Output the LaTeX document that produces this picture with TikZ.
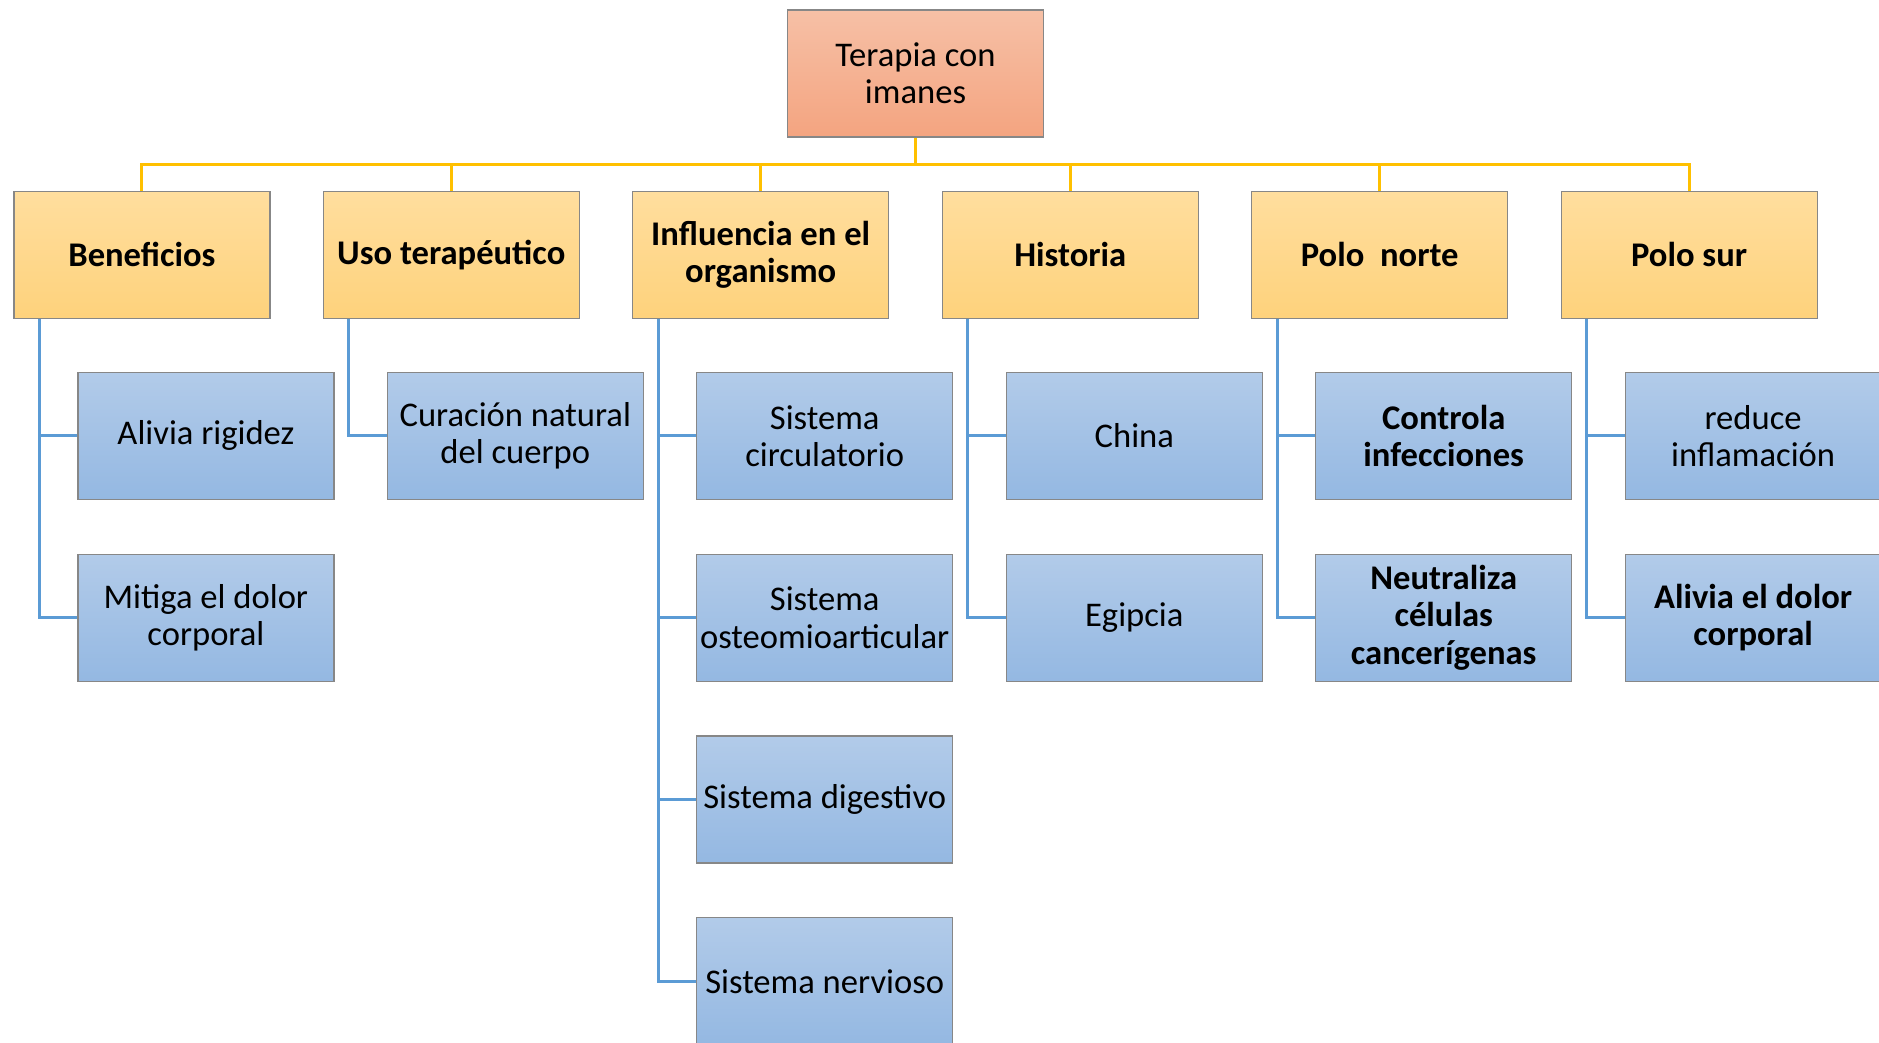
\documentclass[tikz,border=0pt]{standalone}
\usepackage{fontspec}
\setmainfont{Carlito}
\usetikzlibrary{positioning}

\definecolor{boxgray}{RGB}{135,135,135}
\definecolor{roottop}{RGB}{246,192,166}
\definecolor{rootbot}{RGB}{244,164,128}
\definecolor{cattop}{RGB}{255,222,158}
\definecolor{catbot}{RGB}{254,210,124}
\definecolor{subtop}{RGB}{178,203,233}
\definecolor{subbot}{RGB}{148,184,226}
\definecolor{yel}{RGB}{255,192,0}
\definecolor{blu}{RGB}{91,155,213}

\begin{document}
\begin{tikzpicture}[node distance=26.8pt,
  box/.style={draw=boxgray, line width=0.6pt, minimum width=128pt, minimum height=63.5pt, inner sep=0pt, align=center, font=\fontsize{17.3}{18.6}\selectfont},
  rootbox/.style={box, top color=roottop, bottom color=rootbot},
  catbox/.style={box, top color=cattop, bottom color=catbot, font=\fontsize{17.3}{18.6}\selectfont\bfseries},
  subbox/.style={box, top color=subtop, bottom color=subbot},
  subboxb/.style={subbox, font=\fontsize{17.3}{18.6}\selectfont\bfseries},
  yline/.style={draw=yel, line width=1.5pt},
  bline/.style={draw=blu, line width=1.5pt}]

\useasboundingbox (0,0) rectangle (939.5pt,-521.5pt);

\node[rootbox] (root) at (457.75pt,-36.75pt) {Terapia con\\imanes};

\node[catbox] (inf) [below left=26.5pt and 13.1pt of root.south] {Influencia en el\\organismo};
\node[catbox] (uso) [left=26.1pt of inf] {Uso terapéutico};
\node[catbox] (ben) [left=26.1pt of uso] {Beneficios};
\node[catbox] (his) [below right=26.5pt and 13.1pt of root.south] {Historia};
\node[catbox] (pn) [right=26.1pt of his] {Polo\ \ norte};
\node[catbox] (ps) [right=26.1pt of pn] {Polo sur};

\node[subbox] (ben1) [below right=26.5pt and 32pt of ben.south west] {Alivia rigidez};
\node[subbox] (ben2) [below=of ben1] {Mitiga el dolor\\corporal};

\node[subbox] (uso1) [below right=26.5pt and 32pt of uso.south west] {Curación natural\\del cuerpo};

\node[subbox] (inf1) [below right=26.5pt and 32pt of inf.south west] {Sistema\\circulatorio};
\node[subbox] (inf2) [below=of inf1] {Sistema\\osteomioarticular};
\node[subbox] (inf3) [below=of inf2] {Sistema digestivo};
\node[subbox] (inf4) [below=of inf3] {Sistema nervioso};

\node[subbox] (his1) [below right=26.5pt and 32pt of his.south west] {China};
\node[subbox] (his2) [below=of his1] {Egipcia};

\node[subboxb] (pn1) [below right=26.5pt and 32pt of pn.south west] {Controla\\infecciones};
\node[subboxb] (pn2) [below=of pn1] {Neutraliza\\células\\cancerígenas};

\node[subbox] (ps1) [below right=26.5pt and 32pt of ps.south west] {reduce\\inflamación};
\node[subboxb] (ps2) [below=of ps1] {Alivia el dolor\\corporal};

\coordinate (hub) at ([yshift=-13.5pt]root.south);
\draw[yline] (root.south) -- (hub);
\foreach \n in {ben,uso,inf,his,pn,ps}
  \draw[yline] (hub) -| (\n.north);

\foreach \n in {ben,uso,inf,his,pn,ps}
  \coordinate (\n-x) at ([xshift=13pt]\n.south west);

\draw[bline] (ben-x) |- (ben1.west);
\draw[bline] (ben-x) |- (ben2.west);
\draw[bline] (uso-x) |- (uso1.west);
\draw[bline] (inf-x) |- (inf1.west);
\draw[bline] (inf-x) |- (inf2.west);
\draw[bline] (inf-x) |- (inf3.west);
\draw[bline] (inf-x) |- (inf4.west);
\draw[bline] (his-x) |- (his1.west);
\draw[bline] (his-x) |- (his2.west);
\draw[bline] (pn-x) |- (pn1.west);
\draw[bline] (pn-x) |- (pn2.west);
\draw[bline] (ps-x) |- (ps1.west);
\draw[bline] (ps-x) |- (ps2.west);

\end{tikzpicture}
\end{document}
